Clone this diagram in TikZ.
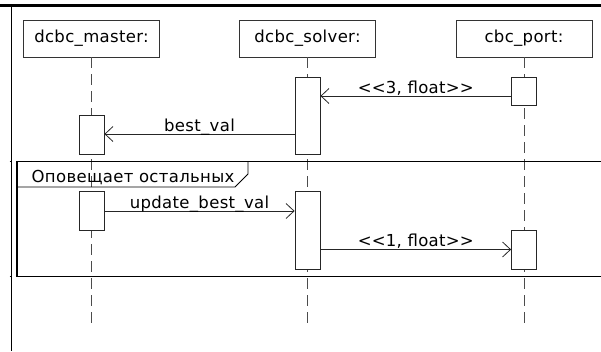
\documentclass[tikz,border=0pt]{standalone}
\usepackage{fontspec}
\setmainfont{DejaVu Sans}[LetterSpace=2]
\usetikzlibrary{arrows.meta}
% keep << and >> from turning into guillemets
\newcommand\stereo[1]{<\kern0pt<#1>\kern0pt>}

\begin{document}
\begin{tikzpicture}[x=1pt,y=-1pt,
  every node/.style={font=\fontsize{16.5}{19}\selectfont},
  obj/.style={draw=black!80,line width=0.8pt,minimum width=136pt,minimum height=37pt,inner sep=0pt},
  act/.style={draw=black!85,fill=white,line width=0.8pt,minimum width=25pt,inner sep=0pt},
  life/.style={draw=black!70,line width=0.9pt,dash pattern=on 11pt off 6pt},
  msg/.style={draw=black!85,line width=0.8pt,-{Straight Barb[length=8pt,width=15pt]}},
  lbl/.style={midway,anchor=base,yshift=3pt,inner sep=0pt}]
\useasboundingbox (0,0) rectangle (601,351);
% outer frame
\draw[line width=3pt] (0,5.5) -- (601,5.5);
\draw[line width=0.9pt] (11,5.5) -- (11,351);
% objects
\node[obj] (master) at (91.5,38.5) {dcbc\_master:};
\node[obj] (solver) at (307.5,38.5) {dcbc\_solver:};
\node[obj] (port) at (524,38.5) {cbc\_port:};
% lifelines
\foreach \n/\e in {master/323,solver/328,port/328}{
\draw[life] (\n.south) -- (\n.south |- 0,\e);
}
% activations
\node[act,minimum height=77pt] (sa1) at (solver.south |- 0,115.5) {};
\node[act,minimum height=28pt] (pa1) at (port.south |- 0,91) {};
\node[act,minimum height=39pt] (ma1) at (master.south |- 0,134.5) {};
\node[act,minimum height=38.5pt] (ma2) at (master.south |- 0,210.75) {};
\node[act,minimum height=78pt] (sa2) at (solver.south |- 0,230.5) {};
\node[act,minimum height=39.5pt] (pa2) at (port.south |- 0,249.75) {};
% messages
\draw[msg] (pa1.west |- 0,96) -- (sa1.east |- 0,96) node[lbl] {\stereo{3, float}};
\draw[msg] (sa1.west |- 0,134) -- (ma1.east |- 0,134) node[lbl] {best\_val};
\draw[msg] (ma2.east |- 0,211) -- (sa2.west |- 0,211) node[lbl] {update\_best\_val};
\draw[msg] (sa2.east |- 0,249.5) -- (pa2.west |- 0,249.5) node[lbl] {\stereo{1, float}};
% combined fragment
\draw[line width=1.6pt] (17,161.5) rectangle (604,276.5);
\draw[line width=0.9pt] (9.5,161.5) -- (11,161.5) (9.5,276.5) -- (11,276.5);
\draw[line width=0.9pt] (17,187) -- (235,187) -- (248,174) -- (248,161.5);
\node[anchor=base west,inner sep=0pt] (frag) at (31.5,182.5) {Оповещает остальных};
\end{tikzpicture}
\end{document}
